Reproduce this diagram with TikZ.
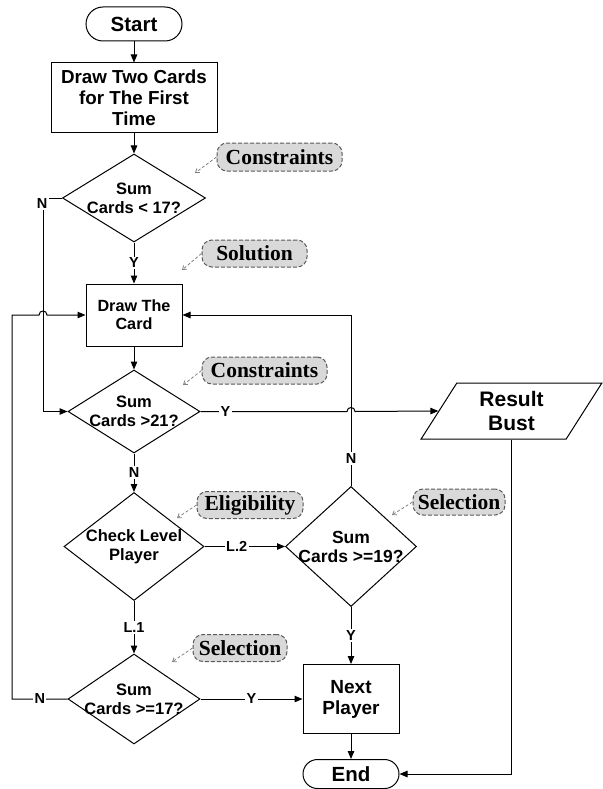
\documentclass[tikz,border=0pt]{standalone}
\usepackage{fontspec}
\setmainfont{Liberation Sans}
\newfontfamily\tnr{Liberation Serif}
\usetikzlibrary{shapes.geometric,arrows.meta,calc}
\newcommand{\fs}[2]{\fontsize{#1}{#2}\selectfont\bfseries}
\begin{document}
\begin{tikzpicture}[x=1pt,y=-1pt, line width=1pt,
  arr/.style={-{Triangle[length=8pt,width=6.5pt]}},
  proc/.style={draw, rectangle, align=center, inner sep=0pt},
  term/.style={draw, rectangle, align=center, inner sep=0pt, minimum width=96pt},
  dia/.style={draw, diamond, inner sep=0pt},
  dtext/.style={align=center, inner sep=0pt, font=\fs{16.5}{19}},
  lbl/.style={fill=white, inner sep=1.5pt, font=\fs{14.5}{16}},
  call/.style={draw=black!65, dash pattern=on 4pt off 2pt, fill=black!15, rounded corners=10pt, inner sep=0pt, font=\tnr\fs{21.5}{24}},
  lead/.style={draw=black!50, dash pattern=on 3pt off 2pt, line width=0.8pt, -{Straight Barb[length=3.5pt,width=5pt]}}
]
\useasboundingbox (0,0) rectangle (602,789);

% main nodes
\node[term, minimum height=34pt, rounded corners=17pt, font=\fs{20.5}{23}] (start) at (134,24) {Start};
\node[proc, minimum width=166pt, minimum height=69pt, font=\fs{18.8}{21.2}] (first) at (134,97.5) {Draw Two Cards\\for The First\\Time};
\node[dia, minimum width=143pt, minimum height=88pt, label={[dtext]center:{Sum\\Cards < 17?}}] (d1) at (134,198) {};
\node[proc, minimum width=96pt, minimum height=62pt, font=\fs{16.2}{18}] (card) at (134,315) {Draw The\\Card};
\node[dia, minimum width=132pt, minimum height=83pt, label={[dtext]center:{Sum\\Cards >21?}}] (d2) at (134,411.5) {};
\node[dia, minimum width=140pt, minimum height=108pt, label={[dtext]center:{Check Level\\Player}}] (d3) at (134,546.5) {};
\node[dia, minimum width=131pt, minimum height=120pt, label={[dtext, font=\fs{17.5}{19}]center:{Sum\\Cards >=19?}}] (d4) at (351,546.5) {};
\node[dia, minimum width=132pt, minimum height=90pt, label={[dtext]center:{Sum\\Cards >=17?}}] (d5) at (134,699) {};
\node[proc, minimum width=96pt, minimum height=69pt, font=\fs{19}{21}] (next) at (351,699) {Next\\Player};
\node[term, minimum height=29pt, rounded corners=14.5pt, font=\fs{20.5}{23}] (end) at (351,774) {End};
\node[draw, trapezium, trapezium left angle=62, trapezium right angle=118, trapezium stretches=true,
      minimum width=181pt, minimum height=56pt, inner sep=0pt, align=center, font=\fs{21}{24}] (bust) at (511.5,411) {Result\\Bust};

% helper coordinates for the two left verticals
\coordinate (xl) at (43,0);
\coordinate (xll) at (12,0);

% connectors
\draw[arr] (start) -- (first);
\draw[arr] (first) -- (d1);
\draw[arr] (d1) -- node[lbl] (y1) {Y} (card);
\draw[arr] (d1.west) -| (xl |- d2.west) -- (d2.west);
\node[lbl] (n1) at ($(xl |- d1.west)+(-1,6)$) {N};
\draw[arr] (card) -- (d2);
\draw[arr] (d2.east) -- node[lbl, pos=0.17] (y2) {Y} ($(d4.north |- d2.east)+(-4,0)$)
  .. controls ($(d4.north |- d2.east)+(-4,-5.3)$) and ($(d4.north |- d2.east)+(4,-5.3)$) .. ($(d4.north |- d2.east)+(4,0)$)
  -- (bust.left side);
\draw[arr] (d2) -- node[lbl] (n2) {N} (d3);
\draw[arr] (d3.east) -- node[lbl, pos=0.4] (l2) {L.2} (d4.west);
\draw[arr] (d3) -- node[lbl] (l1) {L.1} (d5);
\draw[arr] (d4.north) -- node[lbl, pos=0.16] (n4) {N} (d4.north |- card.east) -- (card.east);
\draw[arr] (d4) -- node[lbl] (y4) {Y} (next);
\draw[arr] (d5.east) -- node[lbl] (y5) {Y} (next.west);
\draw[arr] (d5.west) -- node[lbl] (n5) {N} (xll |- d5.west) -- (xll |- card.west)
  -- ($(xl |- card.west)+(-4,0)$)
  .. controls ($(xl |- card.west)+(-4,-5.3)$) and ($(xl |- card.west)+(4,-5.3)$) .. ($(xl |- card.west)+(4,0)$)
  -- (card.west);
\draw[arr] (next) -- (end);
\draw[arr] (bust.south) |- (end.east);

% callouts
\node[call, minimum width=125pt, minimum height=28pt] (c1) at (279.5,157) {Constraints};
\node[call, minimum width=105pt, minimum height=27pt] (c2) at (254.5,253.5) {Solution};
\node[call, minimum width=125pt, minimum height=27pt] (c3) at (264.5,370.5) {Constraints};
\node[call, minimum width=106pt, minimum height=27pt] (c4) at (250,505) {Eligibility};
\node[call, minimum width=92pt, minimum height=26pt] (c5) at (459,502) {Selection};
\node[call, minimum width=94pt, minimum height=27pt] (c6) at (240,648) {Selection};
\coordinate (t1) at (195,173);
\coordinate (t2) at (182,270);
\coordinate (t3) at (183,385);
\coordinate (t4) at (177,518);
\coordinate (t5) at (392,515);
\coordinate (t6) at (172,662);
\draw[lead] (c1.west) -- (t1);
\draw[lead] (c2.west) -- (t2);
\draw[lead] (c3.west) -- (t3);
\draw[lead] (c4.west) -- (t4);
\draw[lead] (c5.west) -- (t5);
\draw[lead] (c6.west) -- (t6);
\end{tikzpicture}
\end{document}
